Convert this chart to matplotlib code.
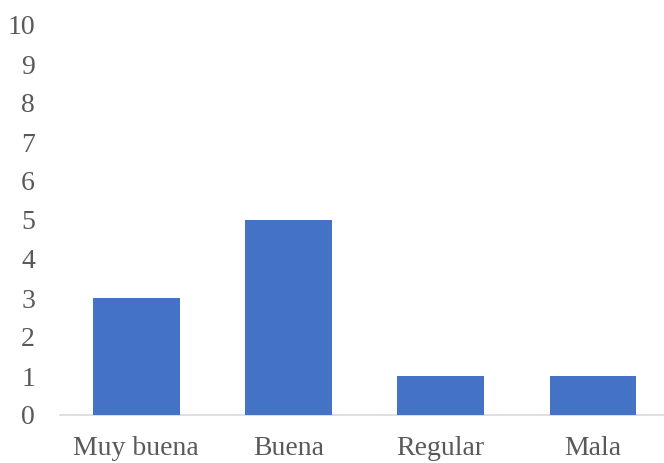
import matplotlib
matplotlib.use("Agg")
import matplotlib.pyplot as plt

categories = ["Muy buena", "Buena", "Regular", "Mala"]
values = [3, 5, 1, 1]
yticks = list(range(0, 11))

plt.rcParams['font.family'] = ['Liberation Serif', 'DejaVu Serif']

W, H = 664, 463
fig = plt.figure(figsize=(W/100, H/100), dpi=100)
left, right = 60, 664
bottom, top = 415, 25
ax = fig.add_axes([left/W, 1-bottom/H, (right-left)/W, (bottom-top)/H])

x = list(range(len(categories)))
ax.bar(x, values, width=0.57, color="#4472C4", zorder=3)
ax.set_xlim(-0.501, 3.467)
ax.set_ylim(0, 10)
ax.set_yticks(yticks)
ax.set_yticklabels([str(t) for t in yticks])
ax.set_xticks(x)
ax.set_xticklabels(categories)
for s in ["top", "right", "left"]:
    ax.spines[s].set_visible(False)
ax.spines["bottom"].set_color("#D9D9D9")
ax.spines["bottom"].set_linewidth(1.2)
ax.tick_params(axis="both", length=0, labelsize=20, labelcolor="#595959")
ax.tick_params(axis="y", pad=18)
ax.tick_params(axis="x", pad=15)

fig.savefig("out.png", dpi=100)
